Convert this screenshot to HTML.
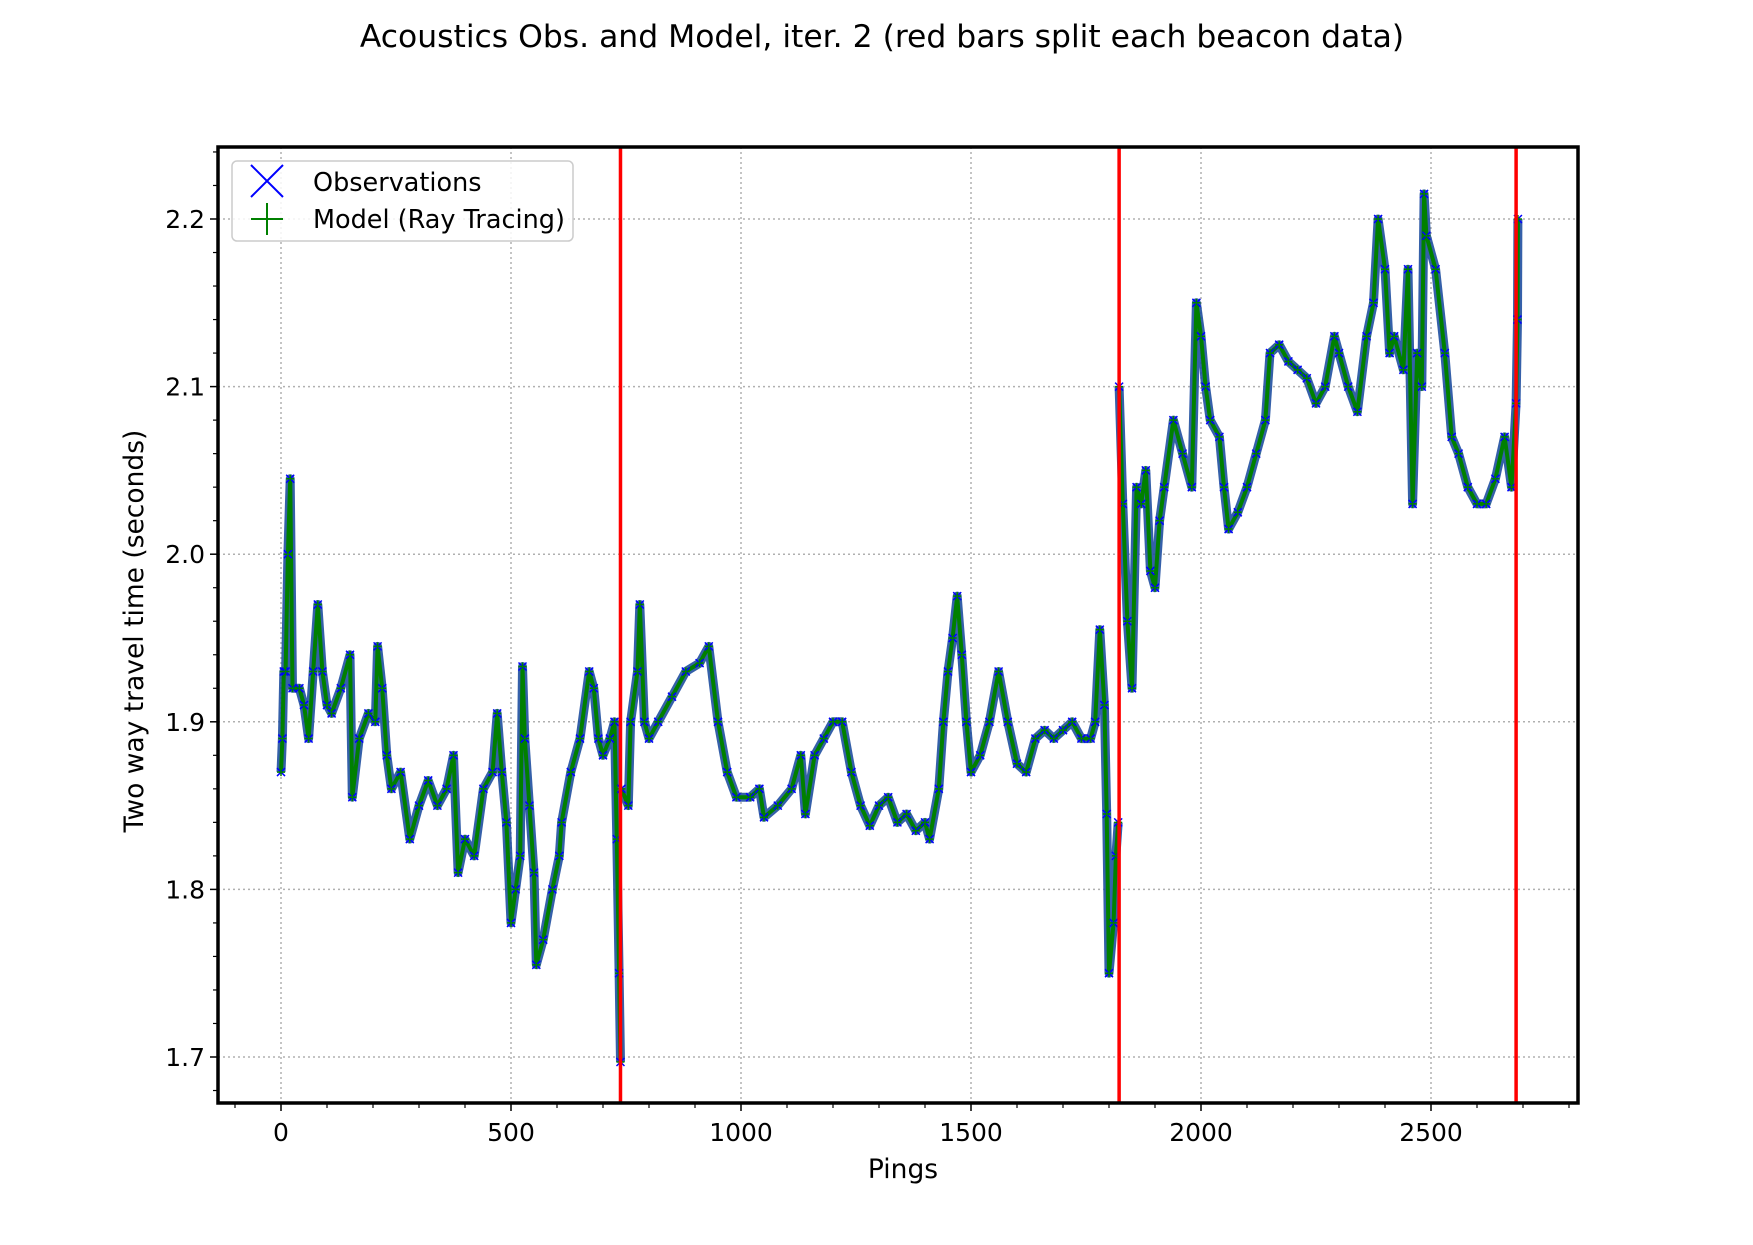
<!DOCTYPE html>
<html><head><meta charset="utf-8"><style>
body{margin:0;background:#fff;}
svg text{font-family:"DejaVu Sans","Liberation Sans",sans-serif;}
</style></head><body>
<svg id="chart" width="1753" height="1240" viewBox="0 0 1753 1240" xmlns="http://www.w3.org/2000/svg">
<rect width="1753" height="1240" fill="#fff"/>
<text x="882" y="47" font-size="31.4" text-anchor="middle">Acoustics Obs. and Model, iter. 2 (red bars split each beacon data)</text>
<g id="grid"></g><g id="series"></g><g id="splits"></g><g id="axes"></g>
<text x="903" y="1178" font-size="26.5" text-anchor="middle">Pings</text>
<text transform="translate(143,631) rotate(-90)" font-size="26.5" text-anchor="middle">Two way travel time (seconds)</text>
<g>
<rect x="232" y="161" width="341" height="80" rx="5" fill="#fff" fill-opacity="0.85" stroke="#ccc" stroke-width="1.5"/>
<path d="M251 165 L283 197 M283 165 L251 197" stroke="#0000ff" stroke-width="2"/>
<text x="313" y="191" font-size="25.5">Observations</text>
<path d="M267 203 L267 235 M251 219 L283 219" stroke="#008000" stroke-width="2"/>
<text x="313" y="228" font-size="25.5">Model (Ray Tracing)</text>
</g>
</svg>
<script>
const pings1=[0,3,6,10,15,20,25,40,50,60,70,80,90,100,110,130,150,155,170,190,205,210,220,230,240,260,280,300,320,340,360,375,385,400,420,440,460,470,480,490,500,510,520,525,530,540,550,555,570,590,605,610,630,650,670,680,690,700,715,725,730,735,738];
const vals1=[1.87,1.89,1.93,1.93,2.0,2.045,1.92,1.92,1.91,1.89,1.93,1.97,1.93,1.91,1.905,1.92,1.94,1.855,1.89,1.905,1.9,1.945,1.92,1.88,1.86,1.87,1.83,1.85,1.865,1.85,1.86,1.88,1.81,1.83,1.82,1.86,1.87,1.905,1.87,1.84,1.78,1.8,1.82,1.933,1.89,1.85,1.81,1.755,1.77,1.8,1.82,1.84,1.87,1.89,1.93,1.92,1.89,1.88,1.89,1.9,1.83,1.75,1.697];
const pings2=[740,755,760,775,780,790,800,820,850,880,910,930,950,970,990,1020,1040,1050,1080,1110,1130,1140,1160,1180,1200,1220,1240,1260,1280,1300,1320,1340,1360,1380,1400,1410,1430,1440,1450,1460,1470,1480,1490,1500,1520,1540,1560,1580,1600,1620,1640,1660,1680,1700,1720,1740,1760,1770,1780,1790,1795,1800,1810,1815,1820];
const vals2=[1.86,1.85,1.9,1.93,1.97,1.9,1.89,1.9,1.915,1.93,1.935,1.945,1.9,1.87,1.855,1.855,1.86,1.843,1.85,1.86,1.88,1.845,1.88,1.89,1.9,1.9,1.87,1.85,1.838,1.85,1.855,1.84,1.845,1.835,1.84,1.83,1.86,1.9,1.93,1.95,1.975,1.94,1.9,1.87,1.88,1.9,1.93,1.9,1.875,1.87,1.89,1.895,1.89,1.895,1.9,1.89,1.89,1.9,1.955,1.91,1.845,1.75,1.78,1.82,1.84];
const pings3=[1822,1830,1840,1850,1860,1870,1880,1890,1900,1910,1920,1940,1960,1980,1990,2000,2010,2020,2040,2050,2060,2080,2100,2120,2140,2150,2170,2190,2210,2230,2250,2270,2290,2300,2320,2340,2360,2375,2385,2400,2410,2420,2440,2450,2460,2470,2480,2485,2490,2510,2530,2545,2560,2580,2600,2620,2640,2660,2675,2685,2688,2689];
const vals3=[2.1,2.03,1.96,1.92,2.04,2.03,2.05,1.99,1.98,2.02,2.04,2.08,2.06,2.04,2.15,2.13,2.1,2.08,2.07,2.04,2.015,2.025,2.04,2.06,2.08,2.12,2.125,2.115,2.11,2.105,2.09,2.1,2.13,2.12,2.1,2.085,2.13,2.15,2.2,2.17,2.12,2.13,2.11,2.17,2.03,2.12,2.1,2.215,2.19,2.17,2.12,2.07,2.06,2.04,2.03,2.03,2.045,2.07,2.04,2.09,2.14,2.2];
const splits=[738,1822,2685];
const xTicks=[0,500,1000,1500,2000,2500];
const yTicks=[1.7,1.8,1.9,2.0,2.1,2.2];

const L=218,R=1578,T=147,B=1103;
const X=v=>281+(v-0)*(1431-281)/2500;
const Y=v=>219+(2.2-v)*1676;
const NS="http://www.w3.org/2000/svg";
function mk(tag,attrs,parent){const e=document.createElementNS(NS,tag);for(const k in attrs)e.setAttribute(k,attrs[k]);document.getElementById(parent).appendChild(e);return e;}

xTicks.forEach(t=>{const e=mk('line',{x1:X(t),x2:X(t),y1:T,y2:B,stroke:'#b0b0b0','stroke-width':1.5,'stroke-dasharray':'2,3'},'grid');

});
yTicks.forEach(t=>{const e=mk('line',{x1:L,x2:R,y1:Y(t),y2:Y(t),stroke:'#b0b0b0','stroke-width':1.5,'stroke-dasharray':'2,3'},'grid');

});

function drawSeries(p,v,idx){
  let d='';p.forEach((x,i)=>{d+=(i?'L':'M')+X(x).toFixed(1)+' '+Y(v[i]).toFixed(1);});
  const band=mk('path',{d:d,fill:'none',stroke:'#1f4fa0','stroke-width':9,'stroke-linejoin':'round','stroke-opacity':0.9},'series');
  
  
  const band2=mk('path',{d:d,fill:'none',stroke:'#008000','stroke-width':4,'stroke-linejoin':'round'},'series');
  
  
  p.forEach((x,i)=>{const cx=X(x),cy=Y(v[i]),s=4;
    const o=mk('path',{d:`M${cx-s} ${cy-s}L${cx+s} ${cy+s}M${cx+s} ${cy-s}L${cx-s} ${cy+s}`,stroke:'#0000ff','stroke-width':1.5},'series');
    
    
    const m=mk('path',{d:`M${cx} ${cy-s}L${cx} ${cy+s}M${cx-s} ${cy}L${cx+s} ${cy}`,stroke:'#008000','stroke-width':1.5},'series');
    
    
  });
}
drawSeries(pings1,vals1,1);drawSeries(pings2,vals2,2);drawSeries(pings3,vals3,3);

splits.forEach(s=>{const e=mk('line',{x1:X(s),x2:X(s),y1:T,y2:B,stroke:'#ff0000','stroke-width':3.5},'splits');

});

const fr=mk('rect',{x:L,y:T,width:R-L,height:B-T,fill:'none',stroke:'#000','stroke-width':3.5},'axes');


xTicks.forEach(t=>{mk('line',{x1:X(t),x2:X(t),y1:B,y2:B+8,stroke:'#000','stroke-width':1.5},'axes');
  const tx=mk('text',{x:X(t),y:B+38,'font-size':25,'text-anchor':'middle'},'axes');tx.textContent=t;
  
  });
for(let t=-100;t<=2800;t+=100){if(t%500===0)continue;mk('line',{x1:X(t),x2:X(t),y1:B,y2:B+5,stroke:'#000','stroke-width':1.2},'axes');}
yTicks.forEach(t=>{mk('line',{x1:L-8,x2:L,y1:Y(t),y2:Y(t),stroke:'#000','stroke-width':1.5},'axes');
  const tx=mk('text',{x:L-13,y:Y(t)+9,'font-size':25,'text-anchor':'end'},'axes');tx.textContent=t.toFixed(1);
  
  });
for(let k=84;k<=112;k++){const t=k*0.02;if(Math.abs(t*10-Math.round(t*10))<1e-6)continue;const y=Y(t);if(y<T||y>B)continue;mk('line',{x1:L-5,x2:L,y1:y,y2:y,stroke:'#000','stroke-width':1.2},'axes');}
</script>
</body></html>
